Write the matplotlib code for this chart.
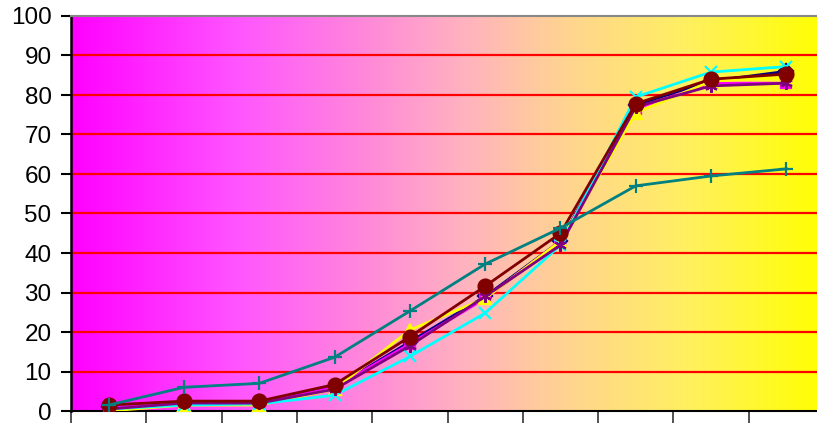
import numpy as np
import matplotlib

matplotlib.use("Agg")
import matplotlib.pyplot as plt
from matplotlib.colors import LinearSegmentedColormap

plt.rcParams["font.family"] = ["Liberation Sans", "DejaVu Sans"]

categories = list(range(1, 11))

navy_diamond = [1.0, 2.0, 2.2, 6.0, 17.5, 29.0, 43.0, 77.5, 83.5, 86.0]
magenta_square = [1.0, 2.0, 2.0, 6.0, 17.0, 28.5, 43.0, 76.5, 83.0, 83.0]
yellow_triangle = [0.0, 1.5, 1.5, 5.5, 20.5, 28.5, 43.0, 75.5, 83.5, 84.5]
cyan_x = [0.5, 1.5, 1.8, 4.0, 13.8, 24.8, 42.0, 79.5, 85.8, 87.2]
purple_star = [0.5, 2.0, 2.0, 5.5, 16.5, 29.0, 42.0, 77.0, 82.3, 83.0]
darkred_circle = [1.5, 2.5, 2.5, 6.7, 18.8, 31.6, 45.0, 77.8, 84.0, 85.3]
teal_plus = [1.5, 6.0, 7.0, 13.6, 25.3, 37.2, 46.3, 57.0, 59.5, 61.3]

series = [
    (navy_diamond, "#000080", "D", 7),
    (magenta_square, "#FF00FF", "s", 7),
    (yellow_triangle, "#FFFF00", "^", 8),
    (cyan_x, "#00FFFF", "x", 8),
    (purple_star, "#800080", (6, 2, 0), 9),
    (darkred_circle, "#800000", "o", 10),
    (teal_plus, "#008080", "+", 10),
]

fig = plt.figure(figsize=(8.17, 4.23), dpi=100)
ax = fig.add_axes([71 / 817, 12 / 423, 753 / 817, 395 / 423])

# gradient background for the plot area
cmap = LinearSegmentedColormap.from_list(
    "bg",
    [(0.0, "#FF00FF"), (0.22, "#FF55FF"), (0.38, "#FF85DC"),
     (0.52, "#FFB2C0"), (0.66, "#FFD490"), (0.82, "#FFF060"), (1.0, "#FFFF00")],
)
grad = np.linspace(0, 1, 256).reshape(1, -1)
ax.imshow(grad, aspect="auto", cmap=cmap, extent=[0.5, 10.5, 0, 100], zorder=0)

for y in range(10, 100, 10):
    ax.axhline(y, color="#FF0000", lw=1.6, zorder=1)

for values, color, marker, ms in series:
    ax.plot(categories, values, color=color, lw=2, marker=marker,
            markersize=ms, markeredgewidth=1.6, markeredgecolor=color,
            markerfacecolor=color, zorder=3)

ax.set_xlim(0.5, 10.5)
ax.set_ylim(0, 100)
ax.set_yticks(range(0, 101, 10))
ax.set_xticks(np.arange(0.5, 11, 1))
ax.set_xticklabels([])
ax.tick_params(axis="y", direction="out", length=7, width=1.5, labelsize=17.5, pad=7)
ax.tick_params(axis="x", direction="out", length=9, width=1.2, color="#333333")

ax.spines["left"].set_linewidth(1.8)
ax.spines["bottom"].set_linewidth(1.5)
ax.spines["top"].set_color("#888888")
ax.spines["top"].set_linewidth(1.5)
ax.spines["right"].set_visible(False)

fig.savefig("out.png", dpi=100)
